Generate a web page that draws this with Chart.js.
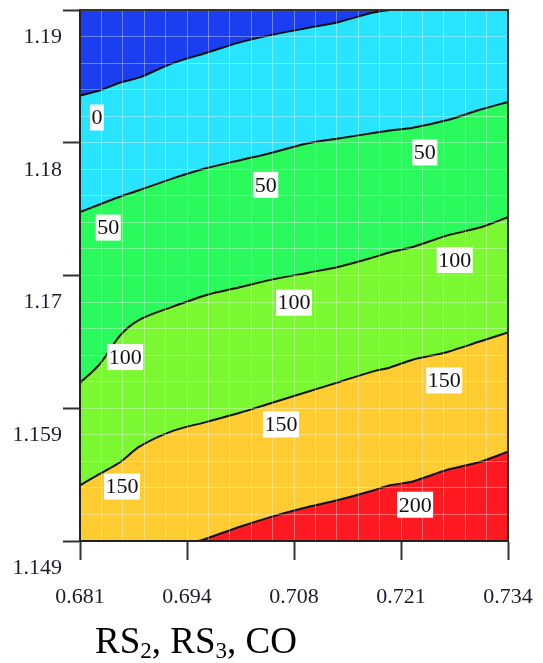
<!DOCTYPE html>
<html>
<head>
<meta charset="utf-8">
<script src="https://cdn.jsdelivr.net/npm/chart.js@4.4.0/dist/chart.umd.min.js"></script>
<style>
html, body { margin: 0; padding: 0; background: #fff; }
</style>
</head>
<body>
<canvas id="graph" width="543" height="663"></canvas>
<script>
var xs = [0.681, 0.6835, 0.686, 0.6884, 0.6925, 0.6967, 0.7008, 0.7049, 0.7091, 0.7132, 0.7173, 0.7194, 0.7222, 0.7265, 0.7305, 0.734];
var level0 = [1.1834, 1.1838, 1.1844, 1.1848, 1.1859, 1.1867, 1.1875, 1.1881, 1.1886, 1.1891, 1.1898, 1.19, 1.19, 1.19, 1.19, 1.19];
var level50 = [1.1744, 1.1750, 1.1756, 1.1761, 1.1770, 1.1778, 1.1784, 1.1790, 1.1797, 1.1801, 1.1805, 1.1807, 1.1809, 1.1815, 1.1823, 1.1829];
var level100 = [1.1612, 1.1627, 1.1649, 1.1661, 1.1671, 1.1680, 1.1686, 1.1692, 1.1697, 1.1702, 1.1709, 1.1713, 1.1717, 1.1726, 1.1732, 1.1740];
var level150 = [1.1533, 1.1542, 1.1551, 1.1563, 1.1575, 1.1582, 1.1589, 1.1597, 1.1605, 1.1613, 1.1621, 1.1624, 1.1630, 1.1636, 1.1644, 1.1651];
var xs200 = [0.681, 0.6956, 0.6967, 0.7008, 0.7049, 0.7091, 0.7132, 0.7173, 0.7194, 0.7222, 0.7265, 0.7305, 0.734];
var level200 = [1.149, 1.149, 1.1492, 1.1501, 1.1509, 1.1516, 1.1522, 1.1529, 1.1533, 1.1536, 1.1545, 1.1551, 1.1559];

// contour labels
var labelText = ['0', '50', '50', '50', '100', '100', '100', '150', '150', '150', '200'];
var labelX = [0.6831, 0.6845, 0.7040, 0.7237, 0.6866, 0.7075, 0.7274, 0.6862, 0.7059, 0.7261, 0.7225];
var labelY = [1.1817, 1.1732, 1.1765, 1.1790, 1.1632, 1.1674, 1.1707, 1.1532, 1.1580, 1.1614, 1.1518];

var xTickLabels = ['0.681', '0.694', '0.708', '0.721', '0.734'];
var yTickLabels = ['1.149', '1.159', '1.17', '1.18', '1.19'];

var serif = '"Liberation Serif", "Times New Roman", serif';

function toPoints(xv, yv) {
    return xv.map((x, i) => ({ x: x, y: yv[i] }));
}

function contour(xv, yv, color) {
    return {
        data: toPoints(xv, yv),
        borderColor: '#111',
        borderWidth: 2,
        pointRadius: 0,
        tension: 0.3,
        fill: 'start',
        backgroundColor: color
    };
}

function gridTicks(scale, n) {
    var ticks = [];
    for (var i = 0; i <= n; i++) {
        ticks.push({ value: scale.min + i * (scale.max - scale.min) / n });
    }
    scale.ticks = ticks;
}

var backdrop = {
    id: 'backdrop',
    beforeDraw(chart) {
        var a = chart.chartArea, ctx = chart.ctx;
        ctx.save();
        ctx.fillStyle = '#1a3ef0';
        ctx.fillRect(a.left, a.top, a.right - a.left, a.bottom - a.top);
        ctx.restore();
    }
};

var extras = {
    id: 'extras',
    afterDraw(chart) {
        var ctx = chart.ctx, a = chart.chartArea;
        var xs_ = chart.scales.x, ys_ = chart.scales.y;
        ctx.save();
        // frame top and right
        ctx.strokeStyle = '#333';
        ctx.lineWidth = 2;
        ctx.beginPath();
        ctx.moveTo(a.left, a.top);
        ctx.lineTo(a.right, a.top);
        ctx.lineTo(a.right, a.bottom);
        ctx.stroke();

        // contour labels
        ctx.font = '22px ' + serif;
        ctx.textAlign = 'center';
        ctx.textBaseline = 'middle';
        labelText.forEach(function (t, i) {
            var px = xs_.getPixelForValue(labelX[i]);
            var py = ys_.getPixelForValue(labelY[i]);
            var w = ctx.measureText(t).width + 3;
            ctx.fillStyle = '#fff';
            ctx.fillRect(px - w / 2, py - 13, w, 26);
            ctx.fillStyle = '#111';
            ctx.fillText(t, px, py + 1);
        });

        // axis title with subscripts
        var parts = [['RS', 0], ['2', 1], [', RS', 0], ['3', 1], [', CO', 0]];
        var x = 95, y = 653;
        ctx.textAlign = 'left';
        ctx.textBaseline = 'alphabetic';
        ctx.fillStyle = '#000';
        parts.forEach(function (p) {
            ctx.font = (p[1] ? '23px ' : '37px ') + serif;
            ctx.fillText(p[0], x, p[1] ? y + 5 : y);
            x += ctx.measureText(p[0]).width;
        });
        ctx.restore();
    }
};

var ctx = document.getElementById('graph').getContext('2d');
var graph = new Chart(ctx, {
    type: 'line',
    data: {
        datasets: [
            contour(xs200, level200, '#ff1a22'),
            contour(xs, level150, '#ffcd32'),
            contour(xs, level100, '#7af832'),
            contour(xs, level50, '#2afa5c'),
            contour(xs, level0, '#28e4ff')
        ]
    },
    options: {
        responsive: false,
        animation: false,
        layout: { padding: { top: 10, right: 35, left: 0, bottom: 0 } },
        plugins: {
            legend: { display: false },
            tooltip: { enabled: false },
            filler: { drawTime: 'beforeDatasetsDraw' }
        },
        scales: {
            x: {
                type: 'linear',
                min: 0.681,
                max: 0.734,
                afterBuildTicks: s => gridTicks(s, 20),
                afterFit: s => { s.height = 122; s.paddingLeft = 0; s.paddingRight = 0; },
                ticks: {
                    autoSkip: false,
                    maxRotation: 0,
                    padding: 24,
                    color: '#1b1b30',
                    font: { family: serif, size: 22 },
                    callback: (v, i) => i % 5 === 0 ? xTickLabels[i / 5] : ''
                },
                grid: {
                    z: 1,
                    color: c => c.index % 20 === 0 ? 'rgba(0,0,0,0)' : 'rgba(255,255,255,0.35)',
                    tickColor: c => c.index % 5 === 0 ? '#333' : 'rgba(0,0,0,0)',
                    tickLength: 19,
                    tickWidth: 2,
                    lineWidth: 1
                },
                border: { z: 2, color: '#222', width: 2 }
            },
            y: {
                type: 'linear',
                min: 1.149,
                max: 1.19,
                afterBuildTicks: s => gridTicks(s, 20),
                afterFit: s => { s.width = 80; s.paddingTop = 0; s.paddingBottom = 0; },
                ticks: {
                    autoSkip: false,
                    padding: 1,
                    labelOffset: 27,
                    color: '#1b1b30',
                    font: { family: serif, size: 22 },
                    callback: (v, i) => i % 5 === 0 ? yTickLabels[i / 5] : ''
                },
                grid: {
                    z: 1,
                    color: c => c.index % 20 === 0 ? 'rgba(0,0,0,0)' : 'rgba(255,255,255,0.35)',
                    tickColor: c => c.index % 5 === 0 ? '#333' : 'rgba(0,0,0,0)',
                    tickLength: 17,
                    tickWidth: 2,
                    lineWidth: 1
                },
                border: { z: 2, color: '#222', width: 2 }
            }
        }
    },
    plugins: [backdrop, extras]
});
</script>
</body>
</html>
